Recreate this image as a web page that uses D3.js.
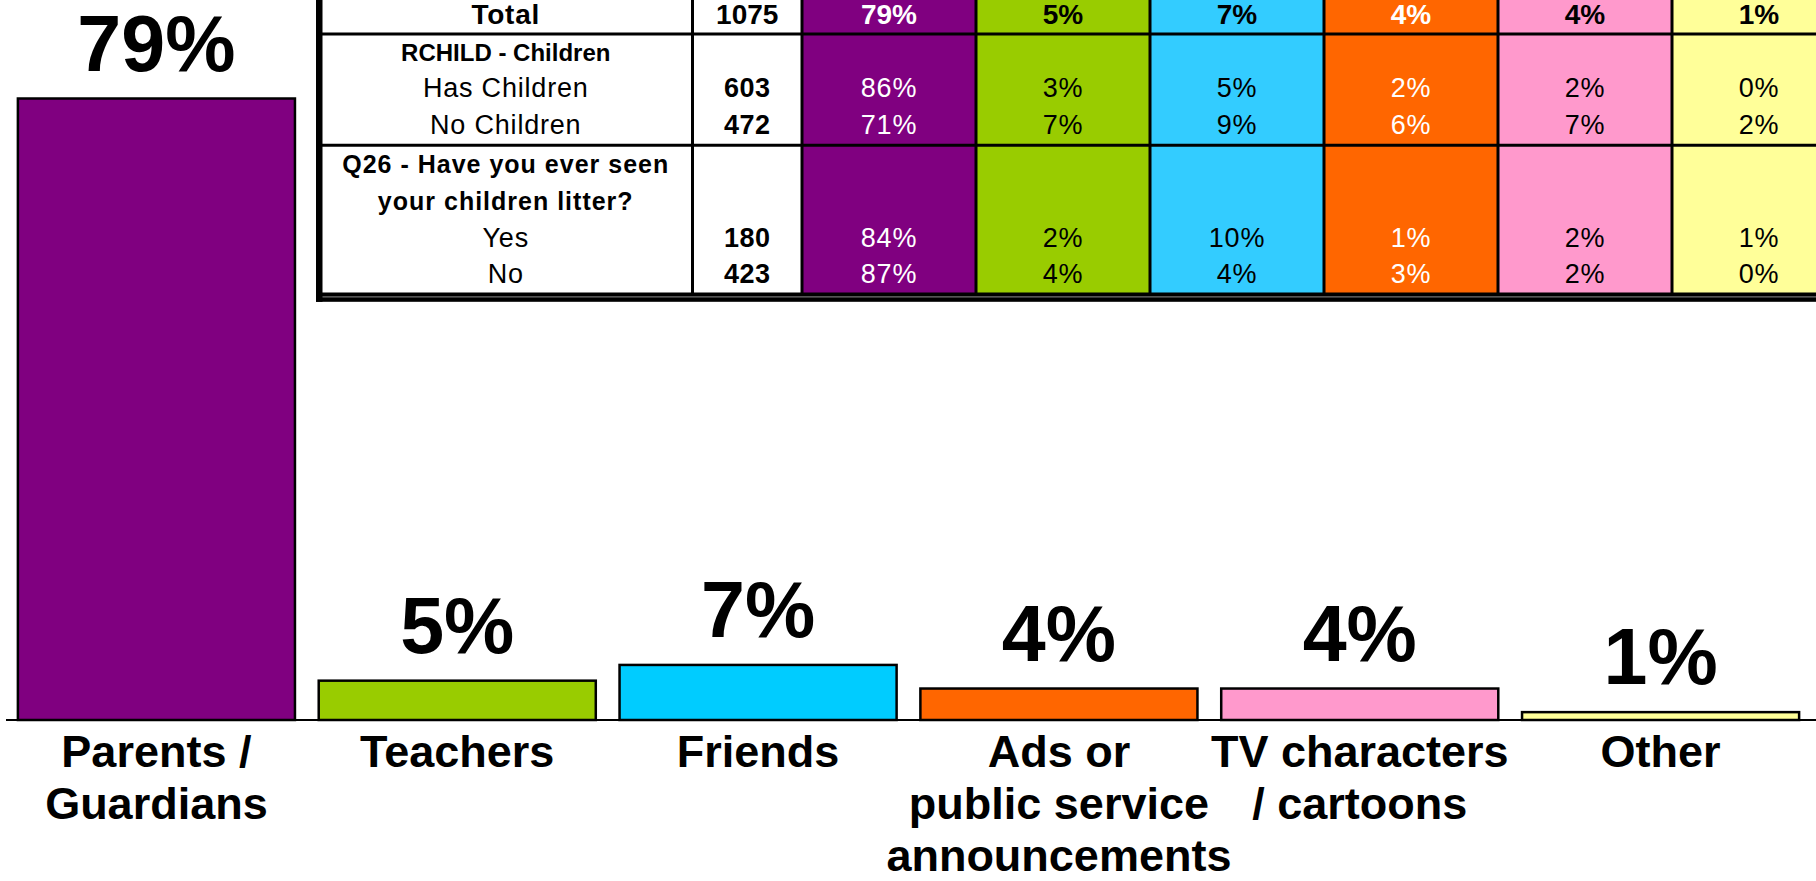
<!DOCTYPE html>
<html>
<head>
<meta charset="utf-8">
<script src="https://cdn.jsdelivr.net/npm/d3@7/dist/d3.min.js"></script>
<style>
  html, body { margin: 0; padding: 0; background: #fff; }
  svg { display: block; font-family: "Liberation Sans", Arial, Helvetica, sans-serif; }
</style>
</head>
<body>
<svg id="chart" width="1816" height="881"></svg>
<script>
// Who children learn about litter from – share of all respondents
const categories = ["Parents / Guardians", "Teachers", "Friends",
  "Ads or public service announcements", "TV characters / cartoons", "Other"];
const categoryLines = [
  ["Parents /", "Guardians"],
  ["Teachers"],
  ["Friends"],
  ["Ads or", "public service", "announcements"],
  ["TV characters", "/ cartoons"],
  ["Other"]
];
const totalValues = [79, 5, 7, 4, 4, 1];
const barColors = ["#800080", "#99CC00", "#00CCFF", "#FF6600", "#FF99CC", "#FFFF99"];
const cellColors = ["#800080", "#99CC00", "#33CCFF", "#FF6600", "#FF99CC", "#FFFF99"];
const cellTextColors = ["#fff", "#000", "#000", "#fff", "#000", "#000"];

// Cross-tab rows shown above the bars
const rowLabels = ["Total", "RCHILD - Children", "Has Children", "No Children",
  "Q26 - Have you ever seen", "your children litter?", "Yes", "No"];
const rowKinds = ["total", "heading", "value", "value", "heading", "heading", "value", "value"];
const rowBases = [1075, null, 603, 472, null, null, 180, 423];
const rowValues = [
  totalValues,
  null,
  [86, 3, 5, 2, 2, 0],
  [71, 7, 9, 6, 7, 2],
  null,
  null,
  [84, 2, 10, 1, 2, 1],
  [87, 4, 4, 3, 2, 0]
];

const W = 1816, H = 881;
const svg = d3.select("#chart");

// ---------- bar chart ----------
const x = d3.scaleBand()
  .domain(categories)
  .range([6, 1811])
  .paddingInner(0.079)
  .paddingOuter(0.0395);

const y = d3.scaleLinear().domain([0, 100]).range([720, -66.7]);

const bars = svg.append("g").attr("class", "bars");
bars.selectAll("rect")
  .data(categories)
  .join("rect")
  .attr("x", d => x(d))
  .attr("width", x.bandwidth())
  .attr("y", (d, i) => y(totalValues[i]))
  .attr("height", (d, i) => y(0) - y(totalValues[i]))
  .attr("fill", (d, i) => barColors[i])
  .attr("stroke", "#000")
  .attr("stroke-width", 2.5);

// value labels above bars
bars.selectAll("text.value")
  .data(categories)
  .join("text")
  .attr("class", "value")
  .attr("x", d => x(d) + x.bandwidth() / 2)
  .attr("y", (d, i) => y(totalValues[i]) - 28)
  .attr("text-anchor", "middle")
  .attr("font-weight", "bold")
  .attr("font-size", 79)
  .attr("fill", "#000")
  .text((d, i) => totalValues[i] + "%");

// baseline
svg.append("line")
  .attr("x1", 6).attr("x2", W)
  .attr("y1", y(0)).attr("y2", y(0))
  .attr("stroke", "#000").attr("stroke-width", 2);

// category labels (multi-line)
const cat = svg.append("g").attr("class", "categories");
cat.selectAll("text")
  .data(categories)
  .join("text")
  .attr("x", d => x(d) + x.bandwidth() / 2)
  .attr("y", 767)
  .attr("text-anchor", "middle")
  .attr("font-weight", "bold")
  .attr("font-size", 45)
  .attr("fill", "#000")
  .each(function (d, i) {
    d3.select(this).selectAll("tspan")
      .data(categoryLines[i])
      .join("tspan")
      .attr("x", x(d) + x.bandwidth() / 2)
      .attr("dy", (t, j) => j === 0 ? 0 : 52)
      .text(t => t);
  });

// ---------- cross-tab table ----------
const tableLeft = 319, labelRight = 692.5, baseRight = 802;
const colW = 174;
const col = d3.scaleBand()
  .domain(categories)
  .range([baseRight, baseRight + colW * categories.length]);
const tableTop = -10, tableBottom = 294;
const labelCx = (tableLeft + labelRight) / 2;
const baseCx = (labelRight + baseRight) / 2;
const rowY = i => 24 + i * 36.67 + (i >= 4 ? 2.5 : 0);

const table = svg.append("g").attr("class", "table");

// white label / base columns
table.append("rect")
  .attr("x", tableLeft).attr("y", tableTop)
  .attr("width", baseRight - tableLeft).attr("height", tableBottom - tableTop)
  .attr("fill", "#fff");

// coloured category columns
table.selectAll("rect.col")
  .data(categories)
  .join("rect")
  .attr("class", "col")
  .attr("x", d => col(d)).attr("y", tableTop)
  .attr("width", col.bandwidth()).attr("height", tableBottom - tableTop)
  .attr("fill", (d, i) => cellColors[i]);

// row label text
const fontFor = (k, i) => k === "total" ? 28 : k === "heading" ? (i >= 4 ? 25 : 24) : 27;
const spacingFor = (k, i) => k === "value" ? 0.8 : k === "total" ? 0.7 : (i >= 4 ? 1 : 0);
table.selectAll("text.rowlabel")
  .data(rowLabels)
  .join("text")
  .attr("class", "rowlabel")
  .attr("x", labelCx)
  .attr("y", (d, i) => rowY(i))
  .attr("text-anchor", "middle")
  .attr("font-size", (d, i) => fontFor(rowKinds[i], i))
  .attr("font-weight", (d, i) => rowKinds[i] === "value" ? "normal" : "bold")
  .attr("letter-spacing", (d, i) => spacingFor(rowKinds[i], i))
  .attr("fill", "#000")
  .text(d => d);

// base sizes
table.selectAll("text.base")
  .data(rowBases.map((n, i) => ({ n, i })).filter(d => d.n !== null))
  .join("text")
  .attr("class", "base")
  .attr("x", baseCx)
  .attr("y", d => rowY(d.i))
  .attr("text-anchor", "middle")
  .attr("font-weight", "bold")
  .attr("font-size", d => d.i === 0 ? 28 : 27)
  .attr("letter-spacing", d => d.i === 0 ? 0 : 0.5)
  .attr("fill", "#000")
  .text(d => d.n);

// percentage cells
const cells = [];
rowValues.forEach((vals, i) => {
  if (!vals) return;
  vals.forEach((v, j) => cells.push({ row: i, c: j, v }));
});
table.selectAll("text.cell")
  .data(cells)
  .join("text")
  .attr("class", "cell")
  .attr("x", d => col(categories[d.c]) + col.bandwidth() / 2)
  .attr("y", d => rowY(d.row))
  .attr("text-anchor", "middle")
  .attr("font-size", d => rowKinds[d.row] === "total" ? 28 : 27)
  .attr("font-weight", d => rowKinds[d.row] === "total" ? "bold" : "normal")
  .attr("letter-spacing", d => rowKinds[d.row] === "total" ? 0 : 0.8)
  .attr("fill", d => cellTextColors[d.c])
  .text(d => d.v + "%");

// grid lines
const vLines = [labelRight, baseRight].concat(categories.slice(1).map(d => col(d)));
table.selectAll("line.v")
  .data(vLines)
  .join("line")
  .attr("class", "v")
  .attr("x1", d => d).attr("x2", d => d)
  .attr("y1", tableTop).attr("y2", tableBottom)
  .attr("stroke", "#000").attr("stroke-width", 3);

table.selectAll("line.h")
  .data([34, 145.3])
  .join("line")
  .attr("class", "h")
  .attr("x1", tableLeft).attr("x2", W)
  .attr("y1", d => d).attr("y2", d => d)
  .attr("stroke", "#000").attr("stroke-width", 3);

// double rule along the bottom
table.append("rect")
  .attr("x", tableLeft - 3).attr("y", 292.5)
  .attr("width", W - tableLeft + 3).attr("height", 3.5)
  .attr("fill", "#000");
table.append("rect")
  .attr("x", tableLeft - 3).attr("y", 297.2)
  .attr("width", W - tableLeft + 3).attr("height", 4.6)
  .attr("fill", "#000");
table.append("rect")
  .attr("x", tableLeft - 3).attr("y", 296)
  .attr("width", W - tableLeft + 3).attr("height", 1.2)
  .attr("fill", "#555");

// heavy left border
table.append("rect")
  .attr("x", 316).attr("y", tableTop)
  .attr("width", 6.5).attr("height", 301.8 - tableTop)
  .attr("fill", "#000");
</script>
</body>
</html>
